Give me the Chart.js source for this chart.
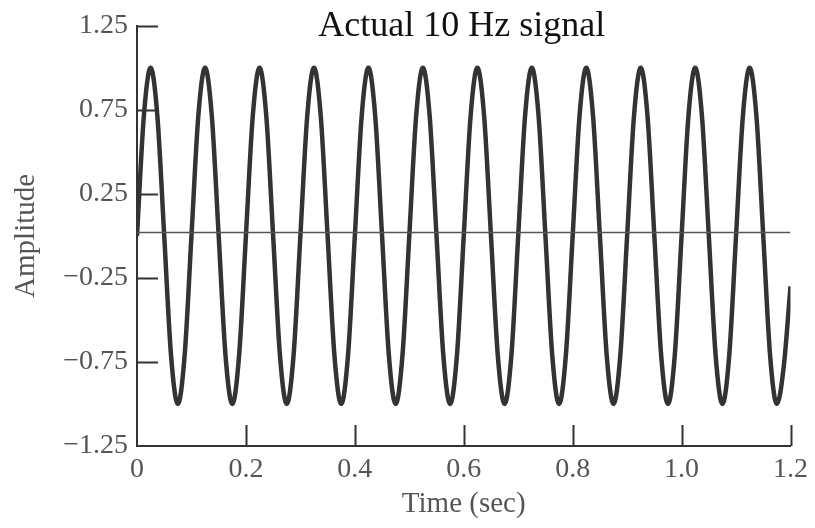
<!DOCTYPE html>
<html>
<head>
<meta charset="utf-8">
<script src="https://cdn.jsdelivr.net/npm/chart.js@4/dist/chart.umd.min.js"></script>
<style>
  body { margin: 0; background: #fff; }
  #wrap { width: 815px; height: 528px; }
</style>
</head>
<body>
<div id="wrap"><canvas id="signal"></canvas></div>
<script>
// samples, every 1/8 of a period
var timeSec = [
  0, 0.0125, 0.025, 0.0375, 0.05, 0.0625, 0.075, 0.0875,
  0.1, 0.1125, 0.125, 0.1375, 0.15, 0.1625, 0.175, 0.1875,
  0.2, 0.2125, 0.225, 0.2375, 0.25, 0.2625, 0.275, 0.2875,
  0.3, 0.3125, 0.325, 0.3375, 0.35, 0.3625, 0.375, 0.3875,
  0.4, 0.4125, 0.425, 0.4375, 0.45, 0.4625, 0.475, 0.4875,
  0.5, 0.5125, 0.525, 0.5375, 0.55, 0.5625, 0.575, 0.5875,
  0.6, 0.6125, 0.625, 0.6375, 0.65, 0.6625, 0.675, 0.6875,
  0.7, 0.7125, 0.725, 0.7375, 0.75, 0.7625, 0.775, 0.7875,
  0.8, 0.8125, 0.825, 0.8375, 0.85, 0.8625, 0.875, 0.8875,
  0.9, 0.9125, 0.925, 0.9375, 0.95, 0.9625, 0.975, 0.9875,
  1.0, 1.0125, 1.025, 1.0375, 1.05, 1.0625, 1.075, 1.0875,
  1.1, 1.1125, 1.125, 1.1375, 1.15, 1.1625, 1.175, 1.1875,
  1.2
];
var amplitude = [
  0, 0.71, 1, 0.71, 0, -0.71, -1, -0.71,
  0, 0.71, 1, 0.71, 0, -0.71, -1, -0.71,
  0, 0.71, 1, 0.71, 0, -0.71, -1, -0.71,
  0, 0.71, 1, 0.71, 0, -0.71, -1, -0.71,
  0, 0.71, 1, 0.71, 0, -0.71, -1, -0.71,
  0, 0.71, 1, 0.71, 0, -0.71, -1, -0.71,
  0, 0.71, 1, 0.71, 0, -0.71, -1, -0.71,
  0, 0.71, 1, 0.71, 0, -0.71, -1, -0.71,
  0, 0.71, 1, 0.71, 0, -0.71, -1, -0.71,
  0, 0.71, 1, 0.71, 0, -0.71, -1, -0.71,
  0, 0.71, 1, 0.71, 0, -0.71, -1, -0.71,
  0, 0.71, 1, 0.71, 0, -0.71, -1, -0.78,
  -0.3
];
var zeroLineX = [0, 1.2];
var zeroLineY = [0.02, 0.02];
var yTicks = [1.25, 0.75, 0.25, -0.25, -0.75, -1.25];
var xTicks = [0, 0.2, 0.4, 0.6, 0.8, 1.0, 1.2];

var serif = "'Liberation Serif', 'DejaVu Serif', serif";
var ink = "#333333";

function toPoints(xs, ys) {
  return xs.map(function (x, i) { return { x: x, y: ys[i] }; });
}

// ticks point inward in the original, so draw them ourselves
var innerTicks = {
  id: "innerTicks",
  afterDraw: function (chart) {
    var ctx = chart.ctx;
    var area = chart.chartArea;
    var xs = chart.scales.x;
    var ys = chart.scales.y;
    ctx.save();
    ctx.strokeStyle = ink;
    ctx.lineWidth = 2;
    ctx.beginPath();
    yTicks.forEach(function (v) {
      if (v === -1.25) return;
      var py = Math.round(ys.getPixelForValue(v)) + 0.5;
      ctx.moveTo(area.left, py);
      ctx.lineTo(area.left + 21, py);
    });
    xTicks.forEach(function (v) {
      if (v === 0) return;
      var px = Math.round(xs.getPixelForValue(v)) + 0.5;
      ctx.moveTo(px, area.bottom);
      ctx.lineTo(px, area.bottom - 21);
    });
    ctx.stroke();

    ctx.fillStyle = "#111";
    ctx.font = "36px " + serif;
    ctx.textAlign = "center";
    ctx.textBaseline = "alphabetic";
    ctx.fillText("Actual 10 Hz signal", (area.left + area.right) / 2 - 2, 36);
    ctx.restore();
  }
};

new Chart("signal", {
  type: "line",
  data: {
    datasets: [
      {
        data: toPoints(zeroLineX, zeroLineY),
        borderColor: "#555555",
        borderWidth: 1.5,
        pointRadius: 0,
        tension: 0
      },
      {
        data: toPoints(timeSec, amplitude),
        borderColor: ink,
        borderWidth: 4.5,
        pointRadius: 0,
        cubicInterpolationMode: "monotone"
      }
    ]
  },
  options: {
    responsive: true,
    maintainAspectRatio: false,
    animation: false,
    layout: { padding: { top: 23, right: 21, left: 0, bottom: 0 } },
    plugins: {
      legend: { display: false },
      tooltip: { enabled: false }
    },
    scales: {
      x: {
        type: "linear",
        min: 0,
        max: 1.2,
        afterBuildTicks: function (s) { s.ticks = xTicks.map(function (v) { return { value: v }; }); },
        afterFit: function (s) { s.height = 82; },
        grid: { display: true, drawOnChartArea: false, drawTicks: false },
        border: { display: true, color: ink, width: 2 },
        ticks: {
          padding: 7,
          color: "#555",
          font: { family: serif, size: 28 },
          maxRotation: 0,
          callback: function (v) { return v === 0 ? "0" : v.toFixed(1); }
        },
        title: {
          display: true,
          text: "Time (sec)",
          color: "#555",
          font: { family: serif, size: 29 },
          padding: { top: 0, bottom: 6 }
        }
      },
      y: {
        type: "linear",
        min: -1.25,
        max: 1.25,
        afterBuildTicks: function (s) { s.ticks = yTicks.map(function (v) { return { value: v }; }); },
        afterFit: function (s) { s.width = 137; },
        grid: { display: true, drawOnChartArea: false, drawTicks: false },
        border: { display: true, color: ink, width: 2 },
        ticks: {
          padding: 9,
          color: "#555",
          font: { family: serif, size: 28 },
          callback: function (v) { return v.toFixed(2).replace("-", "\u2212"); }
        },
        title: {
          display: true,
          text: "Amplitude",
          color: "#555",
          font: { family: serif, size: 29 },
          padding: { top: 9, bottom: 0 }
        }
      }
    }
  },
  plugins: [innerTicks]
});
</script>
</body>
</html>
